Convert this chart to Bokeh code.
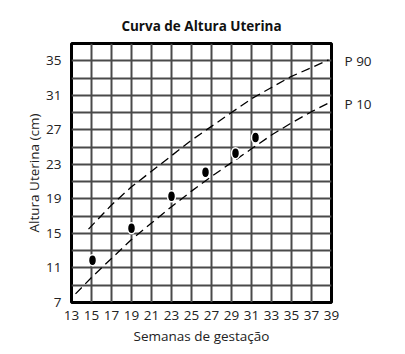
from bokeh.plotting import figure
from bokeh.models import FixedTicker, LinearAxis, Title
from bokeh.embed import file_html
from bokeh.resources import INLINE

FONT = "Open Sans"
FS = "13.5px"

# Data
weeks_obs = [15.1, 19.0, 23.0, 26.4, 29.4, 31.4]
height_obs = [11.9, 15.6, 19.3, 22.1, 24.3, 26.1]

p90_weeks = [14.7, 17, 19, 21, 23, 25, 27, 29, 31, 33, 35, 37, 38.7]
p90_vals = [15.5, 18.3, 20.4, 22.2, 24.0, 25.8, 27.4, 29.0, 30.6, 31.9, 33.2, 34.2, 35.1]

p10_weeks = [13.4, 15, 17, 19, 21, 23, 25, 27, 29, 31, 33, 35, 37, 38.7]
p10_vals = [8.0, 9.9, 12.1, 14.3, 16.2, 18.1, 19.9, 21.6, 23.2, 24.8, 26.4, 27.8, 29.1, 30.1]

curve_names = ["P 90", "P 10"]
curve_label_y = [35, 30]

x_ticks = list(range(13, 40, 2))
y_ticks = list(range(7, 36, 4))
y_grid = list(range(7, 38, 2))

p = figure(width=405, height=354, x_range=(13, 39), y_range=(7, 37),
           output_backend="svg", toolbar_location=None,
           min_border_left=71, min_border_right=74, min_border_top=43,
           min_border_bottom=52)
p.title = Title(text="Curva de Altura Uterina", align="center",
                text_font=FONT, text_font_size=FS, text_font_style="bold",
                text_color="#111111", offset=0, standoff=17)
p.background_fill_color = "white"
p.border_fill_color = "white"
p.outline_line_color = "black"
p.outline_line_width = 3

p.xaxis.ticker = FixedTicker(ticks=x_ticks)
p.yaxis.ticker = FixedTicker(ticks=y_ticks)
p.xgrid.ticker = FixedTicker(ticks=x_ticks)
p.ygrid.ticker = FixedTicker(ticks=y_grid)
for g in (p.xgrid, p.ygrid):
    g.grid_line_color = "#4a4a4a"
    g.grid_line_width = 2
    g.grid_line_alpha = 1

right = LinearAxis(ticker=FixedTicker(ticks=curve_label_y),
                   major_label_overrides={y: n for y, n in zip(curve_label_y, curve_names)})
p.add_layout(right, "right")

for ax in list(p.xaxis) + list(p.yaxis):
    ax.axis_line_color = None
    ax.major_tick_line_color = None
    ax.minor_tick_line_color = None
    ax.major_label_text_font = FONT
    ax.major_label_text_font_size = FS
    ax.major_label_text_color = "#222222"
    ax.axis_label_text_font = FONT
    ax.axis_label_text_font_size = FS
    ax.axis_label_text_font_style = "normal"
    ax.axis_label_text_color = "#222222"
    ax.major_label_standoff = 4

p.xaxis[0].axis_label = "Semanas de gestação"
p.yaxis[0].axis_label = "Altura Uterina (cm)"
p.xaxis[0].major_label_standoff = 2
p.xaxis[0].axis_label_standoff = 4
p.yaxis[0].axis_label_standoff = 0
right.major_label_standoff = 7

p.line(p90_weeks, p90_vals, line_color="black", line_width=1.3, line_dash="9 5")
p.line(p10_weeks, p10_vals, line_color="black", line_width=1.3, line_dash="9 5")

p.ellipse(weeks_obs, height_obs, width=8, height=11,
          width_units="screen", height_units="screen",
          fill_color="black", line_color="white", line_width=1.5)

open("out.html", "w").write(file_html(p, INLINE))
